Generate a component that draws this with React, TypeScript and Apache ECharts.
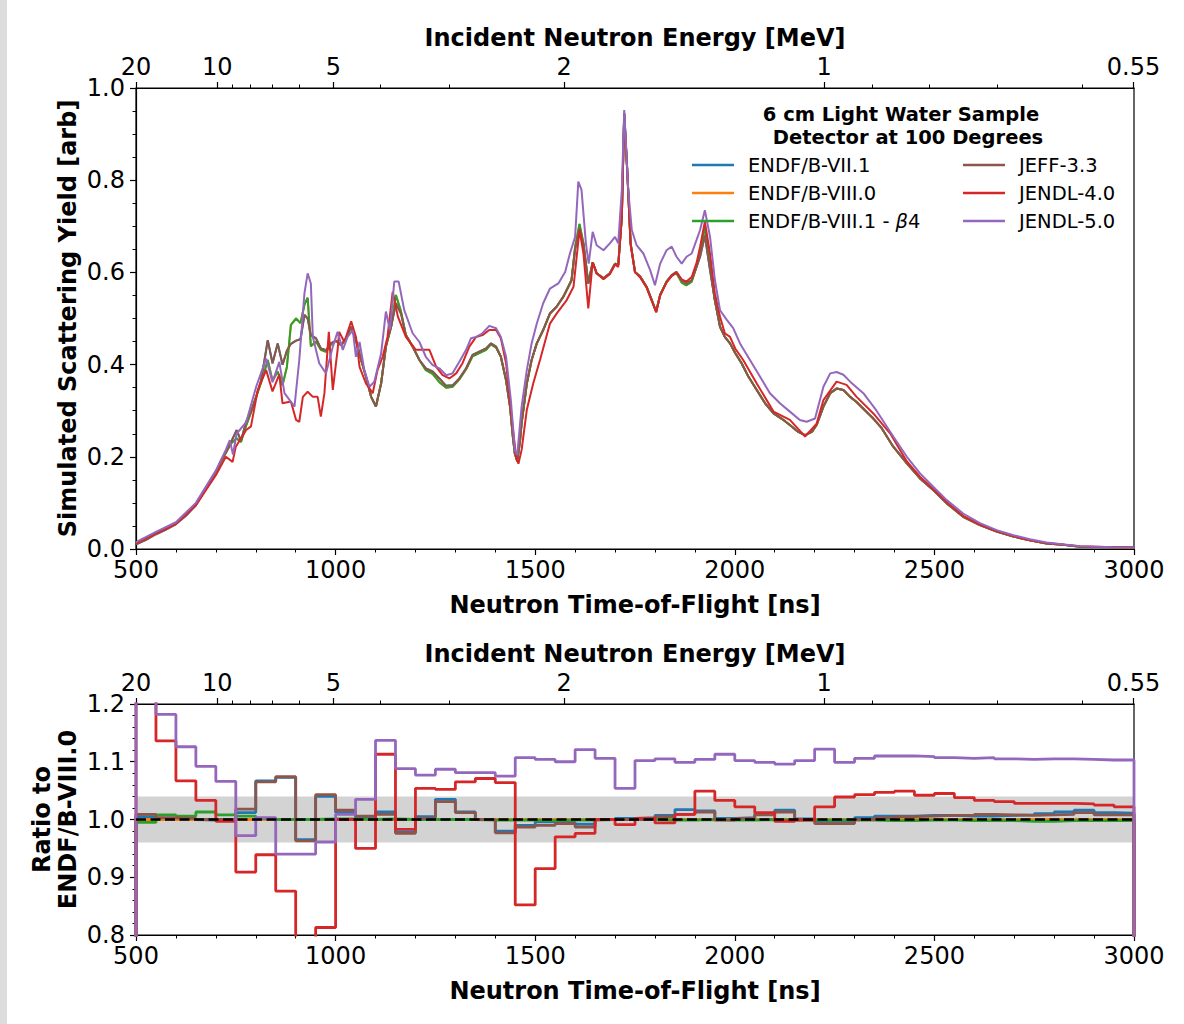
import React, { useEffect, useRef } from "react";
import * as echarts from "echarts";

const FONT = "DejaVu Sans";
const BLUE = "#1f77b4";
const ORANGE = "#ff7f0e";
const GREEN = "#2ca02c";
const BROWN = "#8c564b";
const RED = "#d62728";
const PURPLE = "#9467bd";

const seriesNames = [
  "ENDF/B-VII.1",
  "ENDF/B-VIII.0",
  "ENDF/B-VIII.1 - β4",
  "JEFF-3.3",
  "JENDL-4.0",
  "JENDL-5.0",
];

// Top axis: incident neutron energy ticks (MeV)
const energyMajor = [20, 10, 5, 2, 1, 0.55];
const energyMajorLabels = ["20", "10", "5", "2", "1", "0.55"];
const energyMinor = [9, 8, 7, 6, 4, 3, 0.9, 0.8, 0.7, 0.6];
const TOF_PER_INV_SQRT_MEV = 2224; // ns * sqrt(MeV), flight-path conversion

// ---------- top panel: simulated scattering yield ----------
const tofEndf = [
  500, 525, 550, 575, 600, 625, 650, 675, 700, 712,
  725, 738, 752, 763, 776, 788, 801, 813, 822, 830,
  842, 855, 867, 878, 888, 901, 912, 922, 930, 938,
  951, 963, 976, 988, 1001, 1014, 1026, 1039, 1051, 1064,
  1076, 1089, 1101, 1114, 1126, 1139, 1151, 1164, 1176, 1193,
  1210, 1226, 1243, 1260, 1277, 1293, 1310, 1327, 1343, 1360,
  1377, 1389, 1402, 1414, 1427, 1437, 1444, 1449, 1455, 1462,
  1466, 1479, 1491, 1504, 1520, 1537, 1554, 1571, 1583, 1591,
  1600, 1611, 1621, 1633, 1644, 1654, 1671, 1687, 1700, 1708,
  1717, 1723, 1731, 1739, 1750, 1763, 1779, 1792, 1803, 1813,
  1829, 1842, 1854, 1867, 1879, 1892, 1904, 1913, 1925, 1938,
  1950, 1963, 1975, 1988, 2001, 2017, 2034, 2055, 2076, 2097,
  2117, 2138, 2159, 2176, 2193, 2205, 2222, 2239, 2255, 2272,
  2289, 2305, 2326, 2347, 2368, 2397, 2431, 2464, 2497, 2531,
  2572, 2614, 2656, 2698, 2739, 2781, 2823, 2865, 2948, 3000,
];

const yEndf81 = [
  0.012, 0.022, 0.034, 0.045, 0.056, 0.075, 0.097, 0.133, 0.168, 0.188,
  0.208, 0.229, 0.240, 0.232, 0.268, 0.296, 0.330, 0.360, 0.385, 0.410,
  0.365, 0.385, 0.355, 0.395, 0.486, 0.500, 0.490, 0.530, 0.545, 0.440,
  0.450, 0.432, 0.428, 0.443, 0.452, 0.442, 0.457, 0.482, 0.453, 0.410,
  0.374, 0.330, 0.309, 0.359, 0.439, 0.482, 0.551, 0.515, 0.464, 0.439,
  0.410, 0.388, 0.380, 0.362, 0.350, 0.352, 0.368, 0.390, 0.418, 0.425,
  0.432, 0.444, 0.437, 0.417, 0.366, 0.309, 0.244, 0.207, 0.190, 0.235,
  0.273, 0.359, 0.410, 0.446, 0.475, 0.511, 0.526, 0.548, 0.569, 0.583,
  0.656, 0.705, 0.663, 0.576, 0.622, 0.598, 0.587, 0.598, 0.619, 0.616,
  0.721, 0.945, 0.815, 0.663, 0.601, 0.591, 0.569, 0.540, 0.515, 0.551,
  0.580, 0.594, 0.598, 0.578, 0.572, 0.580, 0.612, 0.640, 0.700, 0.612,
  0.540, 0.482, 0.460, 0.446, 0.425, 0.403, 0.374, 0.345, 0.316, 0.294,
  0.283, 0.269, 0.254, 0.247, 0.254, 0.269, 0.309, 0.338, 0.348, 0.345,
  0.330, 0.319, 0.301, 0.283, 0.262, 0.222, 0.186, 0.153, 0.128, 0.099,
  0.070, 0.052, 0.038, 0.027, 0.019, 0.012, 0.009, 0.005, 0.004, 0.003,
];

const yJeff33 = [
  0.010, 0.020, 0.032, 0.042, 0.054, 0.072, 0.095, 0.130, 0.165, 0.190,
  0.210, 0.232, 0.258, 0.235, 0.276, 0.298, 0.330, 0.365, 0.410, 0.453,
  0.403, 0.446, 0.400, 0.430, 0.445, 0.452, 0.455, 0.508, 0.500, 0.464,
  0.457, 0.435, 0.431, 0.446, 0.452, 0.442, 0.457, 0.482, 0.453, 0.410,
  0.374, 0.330, 0.309, 0.359, 0.439, 0.482, 0.533, 0.510, 0.464, 0.439,
  0.410, 0.392, 0.385, 0.370, 0.354, 0.355, 0.370, 0.392, 0.421, 0.428,
  0.435, 0.446, 0.439, 0.417, 0.366, 0.309, 0.244, 0.207, 0.190, 0.235,
  0.273, 0.359, 0.410, 0.446, 0.475, 0.511, 0.526, 0.548, 0.569, 0.583,
  0.650, 0.695, 0.660, 0.576, 0.622, 0.598, 0.587, 0.598, 0.619, 0.616,
  0.721, 0.945, 0.815, 0.663, 0.601, 0.591, 0.569, 0.540, 0.515, 0.551,
  0.580, 0.594, 0.601, 0.583, 0.576, 0.583, 0.612, 0.634, 0.680, 0.605,
  0.540, 0.482, 0.460, 0.446, 0.425, 0.403, 0.374, 0.345, 0.316, 0.294,
  0.283, 0.269, 0.254, 0.247, 0.254, 0.269, 0.309, 0.338, 0.348, 0.345,
  0.330, 0.319, 0.301, 0.283, 0.262, 0.222, 0.186, 0.153, 0.128, 0.099,
  0.070, 0.052, 0.038, 0.027, 0.019, 0.012, 0.009, 0.005, 0.004, 0.003,
];

// ENDF/B-VIII.0 lies under ENDF/B-VIII.1 and ENDF/B-VII.1 under JEFF-3.3 in the picture
const yEndf80 = yEndf81;
const yEndf71 = yJeff33;

const tofJendl4 = [
  500, 550, 600, 650, 700, 725, 742, 750, 776, 788,
  805, 826, 842, 859, 867, 888, 901, 909, 918, 930,
  943, 955, 963, 972, 983, 993, 1005, 1009, 1022, 1039,
  1051, 1060, 1076, 1093, 1105, 1118, 1130, 1143, 1156, 1176,
  1201, 1235, 1252, 1268, 1285, 1302, 1318, 1335, 1352, 1368,
  1385, 1402, 1414, 1427, 1439, 1452, 1458, 1466, 1479, 1495,
  1512, 1537, 1554, 1579, 1596, 1611, 1621, 1633, 1644, 1654,
  1671, 1687, 1700, 1708, 1717, 1723, 1731, 1739, 1750, 1763,
  1779, 1792, 1803, 1813, 1829, 1842, 1854, 1867, 1879, 1892,
  1904, 1913, 1925, 1938, 1950, 1963, 1975, 1988, 2001, 2021,
  2055, 2097, 2138, 2176, 2205, 2222, 2255, 2280, 2305, 2347,
  2389, 2431, 2464, 2497, 2531, 2572, 2614, 2656, 2698, 2739,
  2781, 2823, 2865, 2948, 3000,
];
const yJendl4 = [
  0.012, 0.034, 0.054, 0.095, 0.160, 0.200, 0.189, 0.222, 0.258, 0.266,
  0.345, 0.388, 0.342, 0.379, 0.316, 0.320, 0.280, 0.276, 0.330, 0.341,
  0.330, 0.330, 0.287, 0.338, 0.471, 0.345, 0.432, 0.471, 0.449, 0.494,
  0.460, 0.395, 0.359, 0.338, 0.388, 0.417, 0.460, 0.558, 0.504, 0.460,
  0.432, 0.432, 0.395, 0.377, 0.370, 0.381, 0.403, 0.439, 0.460, 0.464,
  0.475, 0.475, 0.457, 0.403, 0.302, 0.200, 0.185, 0.215, 0.302, 0.359,
  0.410, 0.489, 0.511, 0.540, 0.569, 0.692, 0.640, 0.522, 0.622, 0.598,
  0.585, 0.596, 0.617, 0.612, 0.720, 0.940, 0.810, 0.660, 0.600, 0.589,
  0.567, 0.538, 0.513, 0.550, 0.578, 0.592, 0.600, 0.585, 0.580, 0.590,
  0.620, 0.655, 0.710, 0.640, 0.555, 0.504, 0.468, 0.460, 0.435, 0.410,
  0.359, 0.298, 0.280, 0.244, 0.272, 0.323, 0.363, 0.356, 0.330, 0.294,
  0.251, 0.190, 0.157, 0.130, 0.102, 0.072, 0.053, 0.039, 0.028, 0.019,
  0.013, 0.009, 0.006, 0.004, 0.003,
];

const tofJendl5 = [
  500, 550, 600, 650, 700, 725, 735, 743, 752, 776,
  801, 826, 842, 859, 872, 897, 909, 922, 930, 938,
  943, 959, 976, 993, 1005, 1018, 1030, 1043, 1051, 1060,
  1072, 1085, 1097, 1114, 1126, 1136, 1147, 1158, 1172, 1193,
  1210, 1226, 1243, 1260, 1277, 1293, 1310, 1327, 1339, 1352,
  1368, 1385, 1402, 1414, 1427, 1439, 1449, 1455, 1466, 1479,
  1491, 1504, 1520, 1537, 1558, 1575, 1587, 1600, 1608, 1616,
  1627, 1634, 1644, 1654, 1671, 1687, 1700, 1708, 1717, 1723,
  1733, 1742, 1754, 1771, 1788, 1800, 1813, 1829, 1842, 1854,
  1867, 1879, 1892, 1904, 1913, 1925, 1938, 1950, 1963, 1980,
  1996, 2013, 2038, 2063, 2088, 2113, 2138, 2163, 2180, 2201,
  2222, 2239, 2255, 2272, 2289, 2322, 2355, 2397, 2431, 2464,
  2497, 2531, 2572, 2614, 2656, 2698, 2739, 2781, 2865, 2948,
  3000,
];
const yJendl5 = [
  0.015, 0.037, 0.058, 0.100, 0.170, 0.215, 0.236, 0.205, 0.250, 0.275,
  0.352, 0.413, 0.362, 0.406, 0.338, 0.309, 0.410, 0.555, 0.598, 0.576,
  0.460, 0.403, 0.381, 0.439, 0.471, 0.432, 0.460, 0.475, 0.417, 0.449,
  0.388, 0.352, 0.363, 0.424, 0.515, 0.475, 0.580, 0.580, 0.518, 0.468,
  0.449, 0.417, 0.399, 0.392, 0.377, 0.381, 0.406, 0.432, 0.457, 0.460,
  0.468, 0.484, 0.479, 0.460, 0.417, 0.323, 0.215, 0.204, 0.309, 0.388,
  0.446, 0.489, 0.533, 0.565, 0.576, 0.601, 0.641, 0.677, 0.797, 0.779,
  0.663, 0.619, 0.688, 0.659, 0.648, 0.663, 0.677, 0.663, 0.779, 0.952,
  0.779, 0.692, 0.659, 0.641, 0.605, 0.572, 0.619, 0.648, 0.656, 0.634,
  0.619, 0.634, 0.641, 0.670, 0.692, 0.735, 0.677, 0.584, 0.518, 0.497,
  0.479, 0.446, 0.410, 0.374, 0.338, 0.316, 0.298, 0.280, 0.276, 0.283,
  0.352, 0.381, 0.384, 0.378, 0.363, 0.338, 0.300, 0.244, 0.200, 0.164,
  0.135, 0.106, 0.077, 0.056, 0.041, 0.030, 0.021, 0.014, 0.006, 0.004,
  0.003,
];

// ---------- bottom panel: ratio to ENDF/B-VIII.0 (50 ns bins) ----------
const binEdges = [
  500, 550, 600, 650, 700, 750, 800, 850, 900, 950,
  1000, 1050, 1100, 1150, 1200, 1250, 1300, 1350, 1400, 1450,
  1500, 1550, 1600, 1650, 1700, 1750, 1800, 1850, 1900, 1950,
  2000, 2050, 2100, 2150, 2200, 2250, 2300, 2350, 2400, 2450,
  2500, 2550, 2600, 2650, 2700, 2750, 2800, 2850, 2900, 2950,
  3000,
];

const rEndf71 = [
  1.005, 1.0, 1.0, 0.999, 0.999, 1.012, 1.067, 1.073, 0.965, 1.04,
  1.012, 1.004, 1.013, 0.978, 1.005, 1.035, 1.013, 1.0, 0.98, 0.99,
  0.996, 0.995, 0.992, 1.0, 1.002, 1.003, 1.007, 1.017, 1.015, 1.002,
  1.003, 1.01, 1.016, 1.001, 0.997, 0.997, 1.003, 1.006, 1.006, 1.007,
  1.007, 1.006, 1.006, 1.007, 1.008, 1.01, 1.013, 1.016, 1.012, 1.011,
];
const rEndf80 = [
  1.0, 1.0, 1.0, 1.0, 1.0, 1.0, 1.0, 1.0, 1.0, 1.0,
  1.0, 1.0, 1.0, 1.0, 1.0, 1.0, 1.0, 1.0, 1.0, 1.0,
  1.0, 1.0, 1.0, 1.0, 1.0, 1.0, 1.0, 1.0, 1.0, 1.0,
  1.0, 1.0, 1.0, 1.0, 1.0, 1.0, 1.0, 1.0, 1.0, 1.0,
  1.0, 1.0, 1.0, 1.0, 1.0, 1.0, 1.0, 1.0, 1.0, 1.0,
];
const rEndf81 = [
  0.995, 1.008, 1.006, 1.013, 1.008, 1.006, 1.002, 1.0, 1.0, 1.001,
  1.001, 1.0, 1.001, 1.0, 1.0, 1.0, 1.0, 0.999, 0.999, 0.999,
  0.998, 0.999, 0.999, 1.0, 1.0, 1.0, 0.999, 0.999, 1.0, 0.999,
  0.999, 1.0, 0.999, 0.999, 0.999, 0.999, 0.999, 0.998, 0.998, 0.999,
  0.999, 0.998, 0.998, 0.998, 0.997, 0.997, 0.998, 0.998, 0.998, 0.998,
];
const rJeff33 = [
  1.009, 1.003, 1.002, 1.0, 1.0, 1.018, 1.065, 1.074, 0.963, 1.043,
  1.016, 1.006, 1.009, 0.976, 1.002, 1.031, 1.012, 1.0, 0.977, 0.987,
  0.99, 0.993, 0.987, 1.0, 1.0, 1.0, 1.005, 1.009, 1.013, 0.999,
  1.002, 1.008, 1.013, 1.0, 0.993, 0.993, 1.0, 1.003, 1.005, 1.006,
  1.007, 1.007, 1.009, 1.008, 1.007, 1.008, 1.009, 1.012, 1.008, 1.008,
];
const rJendl4 = [
  1.25, 1.136, 1.067, 1.033, 0.997, 0.909, 0.939, 0.876, 0.75, 0.813,
  1.0, 0.95, 1.113, 0.983, 1.054, 1.052, 1.065, 1.071, 1.064, 0.852,
  0.915, 0.97, 0.976, 1.0, 0.991, 1.002, 0.994, 1.009, 1.049, 1.033,
  1.022, 1.012, 0.997, 0.999, 1.022, 1.039, 1.043, 1.047, 1.049, 1.042,
  1.045, 1.038, 1.033, 1.031, 1.028, 1.028, 1.028, 1.027, 1.025, 1.022,
];
const rJendl5 = [
  1.25, 1.182, 1.126, 1.092, 1.066, 0.972, 1.003, 0.94, 0.94, 0.961,
  1.009, 1.035, 1.137, 1.088, 1.077, 1.087, 1.081, 1.081, 1.075, 1.107,
  1.104, 1.1, 1.121, 1.106, 1.054, 1.102, 1.105, 1.099, 1.104, 1.113,
  1.102, 1.099, 1.096, 1.102, 1.122, 1.099, 1.106, 1.11, 1.11, 1.109,
  1.107, 1.106, 1.107, 1.105, 1.104, 1.105, 1.105, 1.104, 1.103, 1.103,
];

const bandLow = 0.96;
const bandHigh = 1.04;
const refLine = [1.0, 1.0];

function pairs(xs: number[], ys: number[]) {
  const n = Math.min(xs.length, ys.length);
  const out: number[][] = [];
  for (let i = 0; i < n; i++) out.push([xs[i], ys[i]]);
  return out;
}

function stairs(edges: number[], vals: number[]) {
  const out: number[][] = [[edges[0], 0]];
  for (let i = 0; i < vals.length; i++) out.push([edges[i], vals[i]]);
  const last = edges[vals.length];
  out.push([last, vals[vals.length - 1]]);
  out.push([last, 0]);
  return out;
}

function energyToTof(e: number) {
  const t = TOF_PER_INV_SQRT_MEV / Math.sqrt(e);
  return Math.min(3000, Math.max(500, t));
}

const majorT = energyMajor.map(energyToTof);
const minorT = energyMinor.map(energyToTof);

function energyLabel(v: number) {
  let best = 0;
  for (let i = 1; i < majorT.length; i++) {
    if (Math.abs(majorT[i] - v) < Math.abs(majorT[best] - v)) best = i;
  }
  return energyMajorLabels[best];
}

const axisLineStyle = { color: "#000", width: 1.2 };
const labelStyle = { fontFamily: FONT, fontSize: 24, color: "#000" };
const titleStyle = { fontFamily: FONT, fontSize: 24, fontWeight: "bold", color: "#000" };

function xAxesFor(grid: number) {
  return [
    {
      type: "value",
      gridIndex: grid,
      position: "bottom",
      min: 500,
      max: 3000,
      interval: 500,
      axisLine: { show: true, lineStyle: axisLineStyle },
      axisTick: { show: true, length: 6, lineStyle: axisLineStyle },
      minorTick: { show: true, splitNumber: 5, length: 3.5, lineStyle: { color: "#000", width: 1 } },
      axisLabel: { ...labelStyle, margin: 9, formatter: (v: number) => String(Math.round(v)) },
      splitLine: { show: false },
      minorSplitLine: { show: false },
      name: "Neutron Time-of-Flight [ns]",
      nameLocation: "middle",
      nameGap: 44,
      nameMoveOverlap: false,
      nameTextStyle: titleStyle,
    },
    {
      type: "value",
      gridIndex: grid,
      position: "top",
      min: 500,
      max: 3000,
      axisLine: { show: true, lineStyle: axisLineStyle },
      axisTick: { show: true, customValues: majorT, length: 6, lineStyle: axisLineStyle },
      axisLabel: { ...labelStyle, margin: 9, customValues: majorT, formatter: (v: number) => energyLabel(v) },
      splitLine: { show: false },
      name: "Incident Neutron Energy [MeV]",
      nameLocation: "middle",
      nameGap: 38,
      nameMoveOverlap: false,
      nameTextStyle: titleStyle,
    },
    {
      type: "value",
      gridIndex: grid,
      position: "top",
      min: 500,
      max: 3000,
      axisLine: { show: false },
      axisTick: { show: true, customValues: minorT, length: 3.5, lineStyle: { color: "#000", width: 1 } },
      axisLabel: { show: false },
      splitLine: { show: false },
    },
  ];
}

function lineSeries(name: string, color: string, data: number[][], xi: number, yi: number, width: number, step?: boolean) {
  return {
    type: "line",
    name,
    xAxisIndex: xi,
    yAxisIndex: yi,
    data,
    step: step ? "end" : false,
    symbol: "none",
    showSymbol: false,
    smooth: false,
    z: 3,
    lineStyle: { color, width },
    itemStyle: { color },
    emphasis: { disabled: true },
  };
}

const legendText = {
  fontFamily: FONT,
  fontSize: 19.5,
  color: "#000",
  padding: [0, 0, 0, 9],
};

export default function App() {
  const ref = useRef<HTMLDivElement>(null);

  useEffect(() => {
    document.body.style.margin = "0";
    if (!ref.current) return;
    const chart = echarts.init(ref.current, undefined, { renderer: "svg" });

    const topW = 2;
    const botW = 2.8;

    const option: any = {
      animation: false,
      backgroundColor: "#fff",
      textStyle: { fontFamily: FONT },
      grid: [
        { left: 136, top: 88, width: 998, height: 461, show: true, borderColor: "#000", borderWidth: 1.2, backgroundColor: "transparent", containLabel: false, outerBoundsMode: "none" },
        { left: 136, top: 704, width: 998, height: 231, show: true, borderColor: "#000", borderWidth: 1.2, backgroundColor: "transparent", containLabel: false, outerBoundsMode: "none" },
      ],
      xAxis: [...xAxesFor(0), ...xAxesFor(1)],
      yAxis: [
        {
          type: "value",
          gridIndex: 0,
          min: 0,
          max: 1,
          interval: 0.2,
          axisLine: { show: true, lineStyle: axisLineStyle },
          axisTick: { show: true, length: 6, lineStyle: axisLineStyle },
          minorTick: { show: true, splitNumber: 4, length: 3.5, lineStyle: { color: "#000", width: 1 } },
          axisLabel: { ...labelStyle, margin: 11, formatter: (v: number) => v.toFixed(1) },
          splitLine: { show: false },
          minorSplitLine: { show: false },
          name: "Simulated Scattering Yield [arb]",
          nameLocation: "middle",
          nameGap: 56,
          nameMoveOverlap: false,
          nameTextStyle: titleStyle,
        },
        {
          type: "value",
          gridIndex: 1,
          min: 0.8,
          max: 1.2,
          interval: 0.1,
          axisLine: { show: true, lineStyle: axisLineStyle },
          axisTick: { show: true, length: 6, lineStyle: axisLineStyle },
          minorTick: { show: true, splitNumber: 5, length: 3.5, lineStyle: { color: "#000", width: 1 } },
          axisLabel: { ...labelStyle, margin: 11, formatter: (v: number) => v.toFixed(1) },
          splitLine: { show: false },
          minorSplitLine: { show: false },
          name: "Ratio to\nENDF/B-VIII.0",
          nameLocation: "middle",
          nameGap: 55,
          nameMoveOverlap: false,
          nameTextStyle: { ...titleStyle, lineHeight: 26 },
        },
      ],
      legend: [
        {
          data: seriesNames.slice(0, 3),
          left: 692,
          top: 155,
          padding: 0,
          orient: "vertical",
          icon: "rect",
          itemWidth: 42,
          itemHeight: 2.6,
          itemGap: 8,
          selectedMode: false,
          textStyle: {
            ...legendText,
            rich: { i: { fontFamily: FONT, fontSize: 19.5, fontStyle: "italic", color: "#000" } },
          },
          formatter: (n: string) => n.replace("β", "{i|β}"),
        },
        {
          data: seriesNames.slice(3, 6),
          left: 963,
          top: 155,
          padding: 0,
          orient: "vertical",
          icon: "rect",
          itemWidth: 42,
          itemHeight: 2.6,
          itemGap: 8,
          selectedMode: false,
          textStyle: legendText,
        },
      ],
      graphic: [
        {
          type: "rect",
          silent: true,
          shape: { x: 0, y: 0, width: 7, height: 1024 },
          style: { fill: "#dcdcdc" },
        },
        {
          type: "text",
          silent: true,
          x: 901,
          y: 114,
          style: { text: "6 cm Light Water Sample", fontFamily: FONT, fontSize: 19.5, fontWeight: "bold", fill: "#000", align: "center", verticalAlign: "middle" },
        },
        {
          type: "text",
          silent: true,
          x: 908,
          y: 137,
          style: { text: "Detector at 100 Degrees", fontFamily: FONT, fontSize: 19.5, fontWeight: "bold", fill: "#000", align: "center", verticalAlign: "middle" },
        },
      ],
      series: [
        lineSeries(seriesNames[0], BLUE, pairs(tofEndf, yEndf71), 0, 0, topW),
        lineSeries(seriesNames[1], ORANGE, pairs(tofEndf, yEndf80), 0, 0, topW),
        lineSeries(seriesNames[2], GREEN, pairs(tofEndf, yEndf81), 0, 0, topW),
        lineSeries(seriesNames[3], BROWN, pairs(tofEndf, yJeff33), 0, 0, topW),
        lineSeries(seriesNames[4], RED, pairs(tofJendl4, yJendl4), 0, 0, topW),
        lineSeries(seriesNames[5], PURPLE, pairs(tofJendl5, yJendl5), 0, 0, topW),
        {
          type: "line",
          name: "band",
          xAxisIndex: 3,
          yAxisIndex: 1,
          data: [[500, 1]],
          symbol: "none",
          lineStyle: { opacity: 0 },
          z: 1,
          silent: true,
          markArea: {
            silent: true,
            itemStyle: { color: "#d3d3d3" },
            data: [[{ xAxis: 500, yAxis: bandLow }, { xAxis: 3000, yAxis: bandHigh }]],
          },
        },
        lineSeries(seriesNames[0], BLUE, stairs(binEdges, rEndf71), 3, 1, botW, true),
        lineSeries(seriesNames[1], ORANGE, stairs(binEdges, rEndf80), 3, 1, botW, true),
        lineSeries(seriesNames[2], GREEN, stairs(binEdges, rEndf81), 3, 1, botW, true),
        lineSeries(seriesNames[3], BROWN, stairs(binEdges, rJeff33), 3, 1, botW, true),
        lineSeries(seriesNames[4], RED, stairs(binEdges, rJendl4), 3, 1, botW, true),
        lineSeries(seriesNames[5], PURPLE, stairs(binEdges, rJendl5), 3, 1, botW, true),
        {
          type: "line",
          name: "reference",
          xAxisIndex: 3,
          yAxisIndex: 1,
          data: [[500, refLine[0]], [3000, refLine[1]]],
          symbol: "none",
          z: 5,
          silent: true,
          lineStyle: { color: "#000", width: 2.6, type: [10, 4.5] },
        },
      ],
    };

    chart.setOption(option);
    return () => chart.dispose();
  }, []);

  return <div ref={ref} style={{ width: 1184, height: 1024 }} />;
}
